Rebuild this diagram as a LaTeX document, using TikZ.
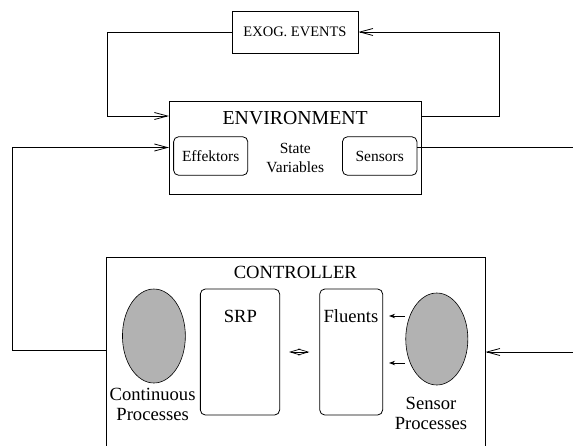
\documentclass[tikz,border=0pt]{standalone}
\usepackage{fontspec}
\setmainfont{Liberation Serif}
\usepackage{tikz}
\usetikzlibrary{arrows.meta,shapes.geometric}

\tikzset{
  box/.style={draw, line width=0.8pt, inner sep=0pt},
  rbox/.style={draw, line width=0.8pt, rounded corners=5pt, inner sep=0pt},
  proc/.style={draw, ellipse, fill=black!30, line width=0.6pt, inner sep=0pt},
  flow/.style={line width=0.8pt, -{Straight Barb[length=13pt,width=7pt]}},
  plain/.style={line width=0.8pt},
  sensarr/.style={line width=0.8pt, -{Stealth[length=6pt,width=4.5pt]}, shorten >=6pt},
  dblarr/.style={line width=0.7pt, {Straight Barb[length=10pt,width=6pt]}-{Straight Barb[length=10pt,width=6pt]}},
  big/.style={font=\fontsize{18.6}{20}\selectfont, align=center, inner sep=0pt},
  small/.style={font=\fontsize{15.5}{19}\selectfont, align=center, inner sep=0pt}
}

\begin{document}
\begin{tikzpicture}[x=1pt,y=-1pt]
\clip (0,0) rectangle (573,445);
\fill[white] (0,0) rectangle (573,445);

\node[box, minimum width=126pt, minimum height=42pt, font=\fontsize{14.5}{17}\selectfont] (exog) at (295,32) {EXOG. EVENTS};
\node[box, minimum width=251.7pt, minimum height=93pt] (env) at (295.2,147.5) {};
\node[inner sep=0pt, font=\fontsize{19.8}{22}\selectfont] (envtitle) at (295.2,118) {ENVIRONMENT};
\node[rbox, minimum width=74.2pt, minimum height=38.5pt, small] (effektors) at (210.7,156) {Effektors};
\node[rbox, minimum width=74.5pt, minimum height=38.5pt, small] (sensors) at (379.7,156) {Sensors};
\node[small] (statevars) at (295.3,157.5) {State\\Variables};

\node[box, minimum width=379pt, minimum height=194pt] (ctrl) at (295.5,354) {};
\node[big] (ctrltitle) at (295.3,272) {CONTROLLER};
\node[proc, minimum width=62.9pt, minimum height=94pt] (contproc) at (153.9,336) {};
\node[big] (contlabel) at (152.6,404) {Continuous\\Processes};
\node[rbox, minimum width=79.3pt, minimum height=126pt] (srp) at (240,352) {};
\node[big] (srplabel) at (240.3,316) {SRP};
\node[rbox, minimum width=62.9pt, minimum height=126pt] (fluents) at (351.2,352) {};
\node[big] (fluentslabel) at (350.9,316) {Fluents};
\node[proc, minimum width=62.1pt, minimum height=92pt] (sensproc) at (436.8,339) {};
\node[big] (senslabel) at (431,413) {Sensor\\Processes};

\coordinate (tl) at (107,116);
\coordinate (tr) at (499.6,116);
\coordinate (rout) at (573,147.5);
\coordinate (lin) at (12.8,350);
\coordinate (rin) at (573,352);
\coordinate (s1) at (405,316);
\coordinate (s2) at (405,363);

\draw[flow] (exog.west) -| (tl) -- (tl -| env.west);
\draw[flow] (tr -| env.east) -- (tr) |- (exog.east);
\draw[plain] (sensors.east |- rout) -- (rout);
\draw[flow] (lin -| ctrl.west) -- (lin) |- (env.west);
\draw[flow] (rin) -- (rin -| ctrl.east);
\draw[sensarr] (s1) -- (s1 -| fluents.east);
\draw[sensarr] (s2) -- (s2 -| fluents.east);
\draw[dblarr, shorten <=9pt, shorten >=10pt] (srp.east) -- (fluents.west);
\end{tikzpicture}
\end{document}
